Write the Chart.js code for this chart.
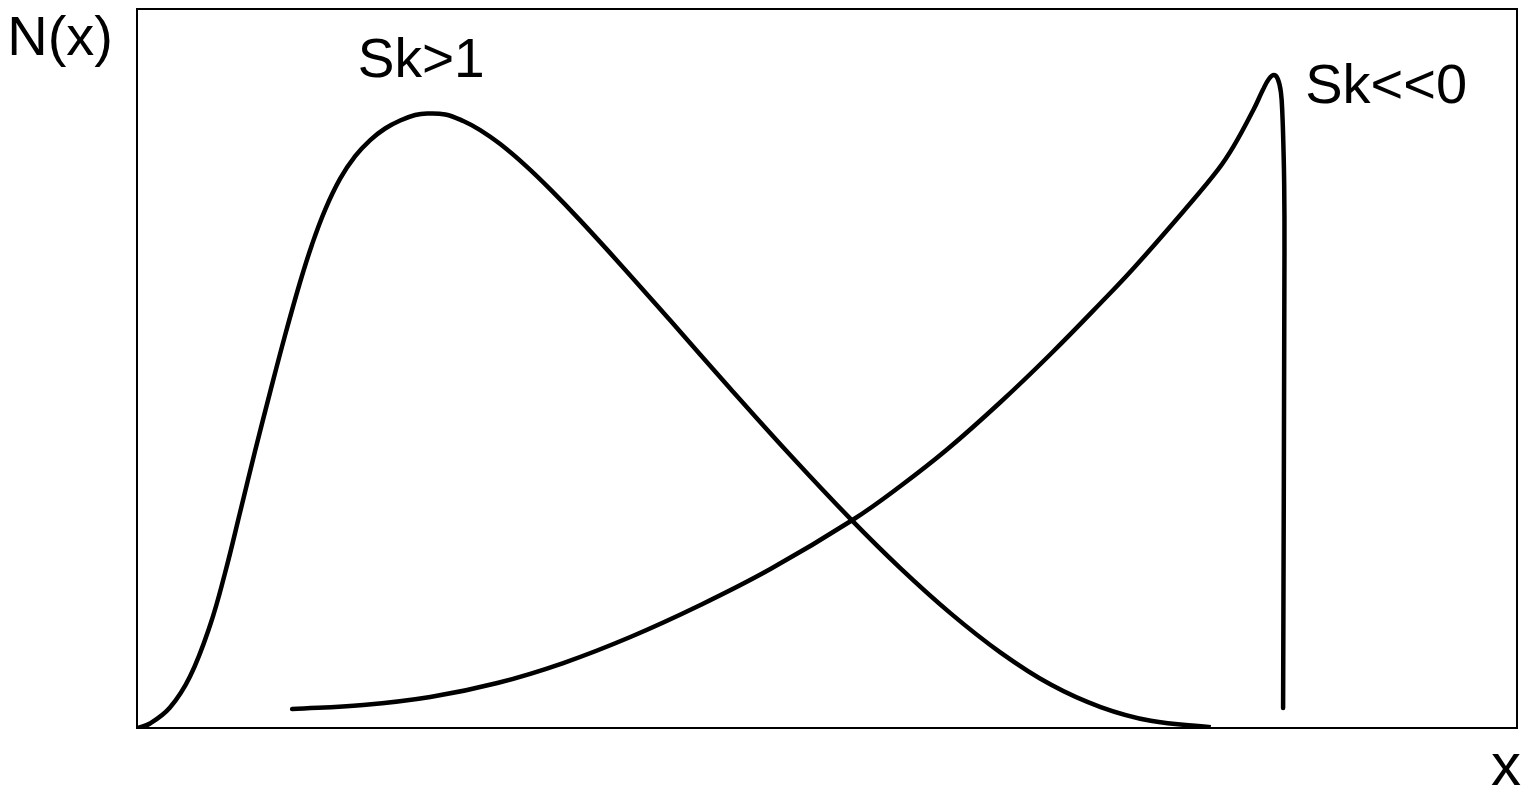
<!DOCTYPE html>
<html>
<head>
<meta charset="utf-8">
<script src="https://cdn.jsdelivr.net/npm/chart.js@4/dist/chart.umd.min.js"></script>
<style>
  html, body { margin: 0; padding: 0; background: #ffffff; }
  #wrap { width: 1524px; height: 787px; position: relative; }
</style>
</head>
<body>
<div id="wrap"><canvas id="c"></canvas></div>
<script>
// Sk>1 curve (positively skewed)
const skPosX = [0, 0.94, 2.39, 3.84, 5.29, 6.38, 7.47, 8.56, 9.65, 10.73, 11.82, 12.69, 13.63, 14.72, 15.81, 16.90, 17.98, 19.07, 20.16, 21.03, 22.34, 23.64, 24.87, 26.32, 28.14, 29.95, 32.13, 35.03, 38.65, 43.00, 47.35, 51.70, 55.33, 58.96, 62.58, 66.21, 69.83, 73.46, 77.81];
const skPosY = [0, 0.63, 2.85, 7.16, 14.26, 21.56, 30.00, 38.55, 46.75, 54.62, 62.03, 67.29, 72.07, 76.40, 79.53, 81.77, 83.38, 84.49, 85.26, 85.47, 85.33, 84.42, 83.16, 81.21, 78.25, 74.91, 70.57, 64.48, 56.66, 47.19, 37.93, 29.08, 22.20, 15.94, 10.49, 6.04, 2.91, 1.00, 0.12];

// Sk<<0 curve (strongly negatively skewed)
const skNegX = [11.24, 16.39, 21.25, 26.11, 30.89, 35.75, 40.83, 45.90, 51.85, 55.33, 58.74, 62.58, 66.21, 69.83, 72.23, 75.85, 78.32, 79.48, 80.93, 81.58, 82.02, 82.38, 82.67, 82.89, 83.00, 83.08, 83.13, 83.15, 83.05];
const skNegY = [2.64, 3.20, 4.31, 6.26, 9.04, 12.66, 17.11, 22.11, 28.93, 33.66, 38.80, 45.34, 52.02, 59.11, 63.98, 71.91, 77.61, 80.95, 86.09, 88.73, 90.26, 90.82, 90.26, 88.46, 85.26, 80.39, 75.52, 66.48, 2.78];

const seriesNames = ["Sk>1", "Sk<<0"];
const axisTitleY = "N(x)";
const axisTitleX = "x";

const toPts = (xs, ys) => xs.map((x, i) => ({ x: x, y: ys[i] }));

const FONT = '"Liberation Sans", Arial, sans-serif';

const decor = {
  id: 'decor',
  afterDatasetsDraw(chart) {
    const { ctx, chartArea: a, scales } = chart;
    ctx.save();
    ctx.strokeStyle = '#000';
    ctx.lineWidth = 2;
    ctx.strokeRect(a.left, a.top, a.right - a.left, a.bottom - a.top);
    ctx.fillStyle = '#000';
    ctx.textBaseline = 'alphabetic';
    ctx.font = '56px ' + FONT;
    ctx.textAlign = 'right';
    ctx.fillText(axisTitleY, a.left - 24, a.top + 46);
    ctx.font = '60px ' + FONT;
    ctx.fillText(axisTitleX, a.right + 4, chart.height - 2);
    ctx.textAlign = 'left';
    ctx.font = '55px ' + FONT;
    ctx.fillText(seriesNames[0], scales.x.getPixelForValue(16.0), scales.y.getPixelForValue(90.5));
    ctx.font = '56px ' + FONT;
    ctx.fillText(seriesNames[1], scales.x.getPixelForValue(84.65), scales.y.getPixelForValue(86.9));
    ctx.restore();
  }
};

new Chart(document.getElementById('c'), {
  type: 'line',
  data: {
    datasets: [
      { label: seriesNames[0], data: toPts(skPosX, skPosY), borderColor: '#000', borderWidth: 4.5, pointRadius: 0, tension: 0.4, fill: false },
      { label: seriesNames[1], data: toPts(skNegX, skNegY), borderColor: '#000', borderWidth: 4.5, pointRadius: 0, tension: 0.4, fill: false, borderCapStyle: 'round' }
    ]
  },
  options: {
    responsive: true,
    maintainAspectRatio: false,
    animation: false,
    layout: { padding: { left: 137, top: 9, right: 7, bottom: 59 } },
    plugins: { legend: { display: false }, tooltip: { enabled: false } },
    scales: {
      x: { type: 'linear', min: 0, max: 100, display: false },
      y: { type: 'linear', min: 0, max: 100, display: false }
    }
  },
  plugins: [decor]
});
</script>
</body>
</html>
